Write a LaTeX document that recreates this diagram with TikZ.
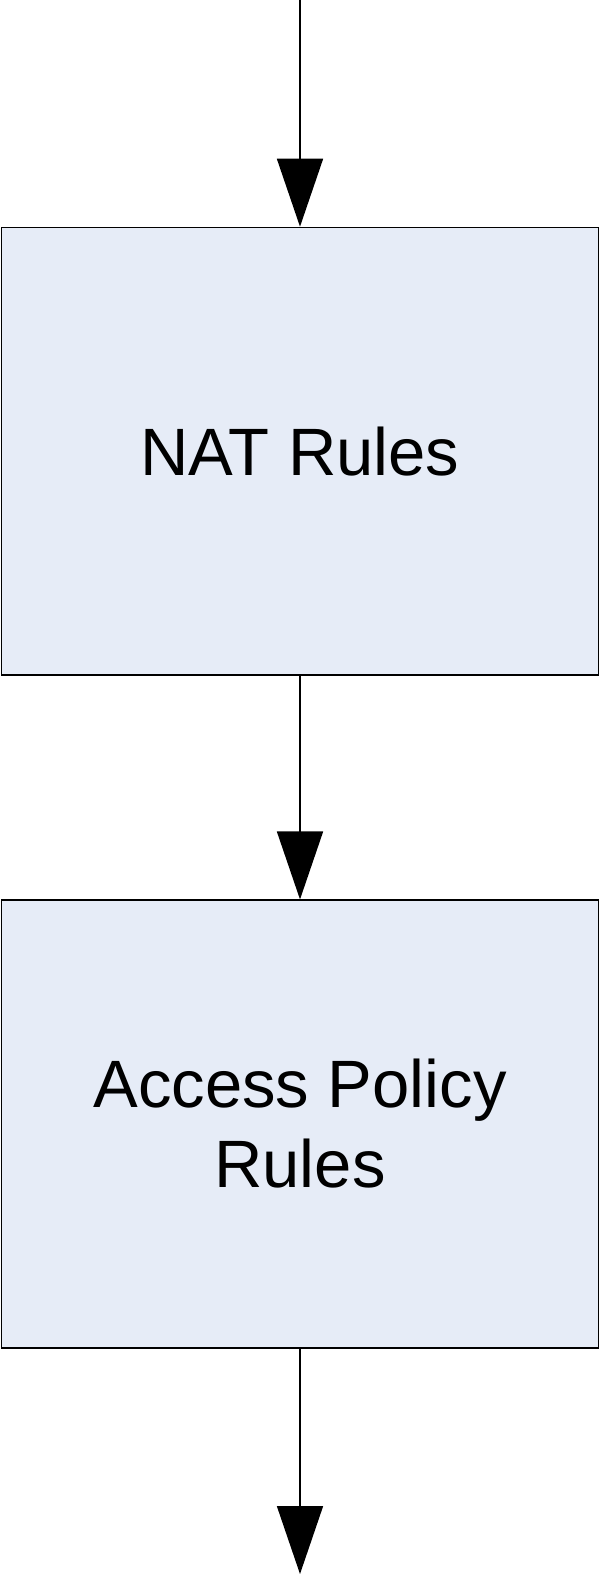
\documentclass[tikz,border=0pt]{standalone}
\usepackage{fontspec}
\setmainfont{Liberation Sans}
\usetikzlibrary{arrows.meta}
\definecolor{boxfill}{RGB}{230,236,247}
\tikzset{
  rulebox/.style={draw=black, fill=boxfill, line width=1.6pt, minimum width=597pt, minimum height=447.5pt, inner sep=0pt, align=center, font=\fontsize{67}{80}\selectfont},
  flow/.style={draw=black, line width=1.6pt, -{Triangle[length=68pt,width=46pt]}}
}
\begin{document}
\begin{tikzpicture}[x=1pt,y=-1pt]
\useasboundingbox (0,0) rectangle (601,1576);
\coordinate (start) at (300,0);
\coordinate (finish) at (300,1574);
\node[rulebox] (nat) at (300,451.25) {NAT Rules};
\node[rulebox] (acc) at (300,1124) {Access Policy\\Rules};
\draw[flow] (start) -- (nat.north);
\draw[flow] (nat.south) -- (acc.north);
\draw[flow] (acc.south) -- (finish);
\end{tikzpicture}
\end{document}
